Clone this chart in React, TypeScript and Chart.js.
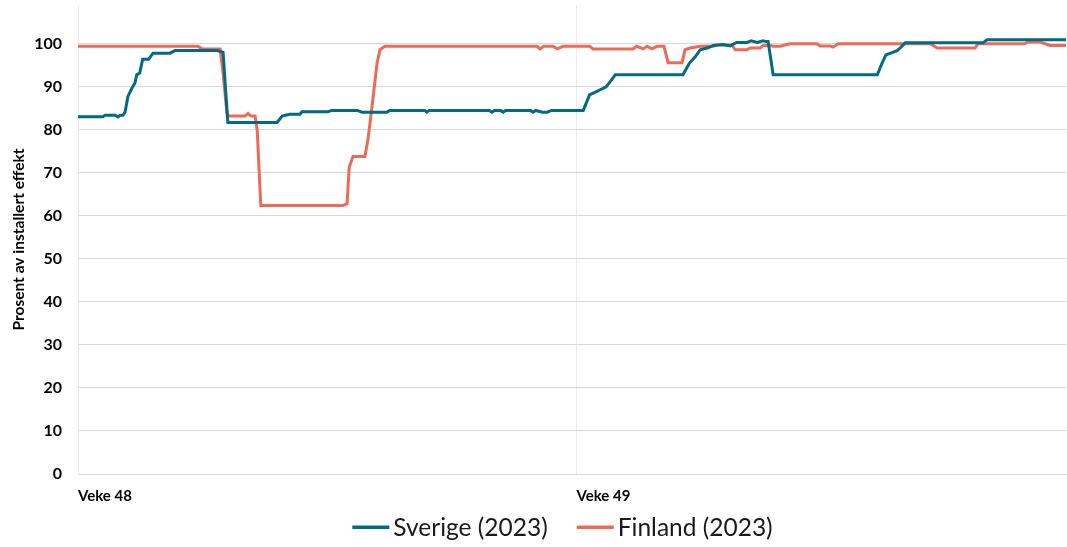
import React, { useEffect, useRef } from "react";
import { Chart, registerables } from "chart.js";

Chart.register(...registerables);

const weekLabels = ["Veke 48", "Veke 49"];
const weekStartHours = [0, 168];
const yTickValues = [0, 10, 20, 30, 40, 50, 60, 70, 80, 90, 100];
const lastHour = 333;

const sverigeLabel = "Sverige (2023)";
const sverigeHours = [
  0, 8.4, 9.1, 12.5, 13.5, 14.2, 15.2, 15.9, 16.8, 18.2, 19.2, 19.8, 20.8, 21.8, 23.8, 25.3, 31.0, 32.7, 46.9,
  48.9, 50.5, 67.1, 68.8, 71.4, 74.8, 75.5, 84.2, 85.6, 94.1, 95.7, 104.1, 105.0, 116.9, 117.6, 118.3, 138.7,
  139.5, 140.3, 142.5, 143.3, 144.1, 152.6, 153.4, 154.2, 156.6, 158.1, 159.6, 170.3, 172.4, 174.9, 176.0,
  178.0, 179.4, 181.1, 203.9, 206.1, 208.1, 209.7, 212.1, 214.1, 217.4, 219.8, 222.0, 225.5, 226.9, 228.9,
  230.9, 231.9, 232.6, 234.3, 269.4, 271.0, 272.3, 276.1, 277.1, 278.8, 305.0, 306.4, 333,
];
const sverigeValues = [
  83.0, 83.0, 83.4, 83.4, 83.0, 83.4, 83.4, 84.2, 87.7, 89.7, 90.9, 92.8, 93.2, 96.4, 96.4, 97.8, 97.8, 98.4,
  98.4, 98.0, 81.7, 81.7, 83.2, 83.6, 83.6, 84.2, 84.2, 84.5, 84.5, 84.1, 84.1, 84.5, 84.5, 84.1, 84.5, 84.5,
  84.1, 84.5, 84.5, 84.1, 84.5, 84.5, 84.1, 84.5, 84.1, 84.1, 84.5, 84.5, 88.1, 88.9, 89.3, 90.0, 91.2, 92.8,
  92.8, 95.5, 97.0, 98.6, 99.0, 99.6, 99.8, 99.5, 100.3, 100.3, 100.7, 100.3, 100.7, 100.5, 100.5, 92.8, 92.8,
  95.5, 97.4, 98.4, 99.0, 100.2, 100.2, 100.9, 100.9,
];

const finlandLabel = "Finland (2023)";
const finlandHours = [
  0, 40.4, 41.8, 47.9, 48.9, 50.2, 50.5, 56.3, 57.3, 58.3, 59.7, 60.4, 61.6, 89.3, 90.7, 91.4, 92.7, 96.7, 97.7,
  99.1, 100.8, 101.8, 103.5, 154.7, 155.7, 157.1, 160.1, 161.5, 163.5, 172.4, 173.6, 187.1, 188.3, 190.5, 191.8,
  193.4, 195.2, 197.5, 198.9, 203.6, 204.6, 206.3, 209.7, 214.1, 215.3, 220.4, 221.5, 225.5, 226.5, 229.9, 230.9,
  233.3, 234.3, 236.7, 240.0, 249.1, 250.1, 253.5, 254.5, 256.2, 287.2, 289.6, 302.4, 303.3, 319.1, 320.1,
  324.3, 327.6, 333,
];
const finlandValues = [
  99.4, 99.4, 98.8, 98.8, 93.2, 83.9, 83.2, 83.2, 83.8, 83.2, 83.2, 79.9, 62.4, 62.4, 62.8, 71.3, 73.8, 73.8,
  77.6, 85.4, 95.5, 98.6, 99.4, 99.4, 98.8, 99.4, 99.4, 98.8, 99.4, 99.4, 98.8, 98.8, 99.4, 98.8, 99.4, 98.8,
  99.4, 99.4, 95.6, 95.6, 98.6, 99.0, 99.4, 99.4, 99.7, 99.7, 98.6, 98.6, 99.0, 99.0, 99.6, 99.6, 99.4, 99.4,
  100, 100, 99.5, 99.5, 99.2, 100, 100, 99.0, 99.0, 100, 100, 100.4, 100.4, 99.6, 99.6,
];

const TEAL = "#006a80";
const RED = "#eb6b5b";

const toPoints = (hours: number[], values: number[]) => hours.map((h, i) => ({ x: h, y: values[i] }));

const customLegend = {
  id: "customLegend",
  afterDraw(chart: any) {
    const ctx = chart.ctx;
    const fontSize = 24.5;
    ctx.save();
    ctx.font = `${fontSize}px Lato`;
    ctx.textBaseline = "middle";
    ctx.textAlign = "left";
    const lineW = 37;
    const gapText = 4;
    const gapItem = 29;
    const items = chart.data.datasets.map((d: any) => ({
      text: d.label,
      color: d.borderColor,
      w: lineW + gapText + ctx.measureText(d.label).width,
    }));
    const total = items.reduce((s: number, it: any) => s + it.w, 0) + gapItem * (items.length - 1);
    let x = chart.width / 2 + 29 - total / 2;
    const y = 527;
    items.forEach((it: any) => {
      ctx.fillStyle = it.color;
      ctx.fillRect(x, y - 1.5, lineW, 3.5);
      ctx.fillStyle = "#1a1a1a";
      ctx.fillText(it.text, x + lineW + gapText, y + 1);
      x += it.w + gapItem;
    });
    ctx.restore();
  },
};

export default function App() {
  const canvasRef = useRef<HTMLCanvasElement | null>(null);

  useEffect(() => {
    document.body.style.margin = "0";
    const canvas = canvasRef.current;
    if (!canvas) return;
    const chart = new Chart(canvas, {
      type: "line",
      data: {
        datasets: [
          {
            label: sverigeLabel,
            data: toPoints(sverigeHours, sverigeValues),
            borderColor: TEAL,
            backgroundColor: TEAL,
            borderWidth: 3,
            pointRadius: 0,
            tension: 0,
          },
          {
            label: finlandLabel,
            data: toPoints(finlandHours, finlandValues),
            borderColor: RED,
            backgroundColor: RED,
            borderWidth: 3,
            pointRadius: 0,
            tension: 0,
          },
        ],
      },
      options: {
        animation: false,
        responsive: true,
        maintainAspectRatio: false,
        layout: { padding: { top: 5, right: 1, bottom: 29, left: 2 } },
        plugins: {
          legend: { display: false },
          tooltip: { enabled: false },
        },
        scales: {
          x: {
            type: "linear",
            min: 0,
            max: lastHour,
            afterBuildTicks: (scale: any) => {
              scale.ticks = weekStartHours.map((v) => ({ value: v }));
            },
            afterFit: (scale: any) => {
              scale.paddingLeft = 0;
              scale.paddingRight = 0;
            },
            ticks: {
              align: "start",
              padding: 13,
              maxRotation: 0,
              autoSkip: false,
              color: "#000",
              font: { family: "Lato", size: 15, weight: "bold" },
              callback: (value: any) => {
                const i = weekStartHours.indexOf(Number(value));
                return i >= 0 ? weekLabels[i] : "";
              },
            },
            grid: { color: "#ececec", lineWidth: 1, drawTicks: false },
            border: { display: true, color: "#d9d9d9" },
          },
          y: {
            min: 0,
            max: 109,
            afterBuildTicks: (scale: any) => {
              scale.ticks = yTickValues.map((v) => ({ value: v }));
            },
            afterFit: (scale: any) => {
              scale.paddingTop = 0;
              scale.paddingBottom = 0;
              scale.width = 76;
            },
            ticks: {
              padding: 16,
              color: "#000",
              font: { family: "Lato", size: 16, weight: "bold" },
            },
            grid: { color: "#d9d9d9", lineWidth: 1, drawTicks: false },
            border: { display: true, color: "#ececec" },
            title: {
              display: true,
              text: "Prosent av installert effekt",
              color: "#000",
              font: { family: "Lato", size: 15.5, weight: "bold" },
              padding: { top: 8, bottom: 3 },
            },
          },
        },
      },
      plugins: [customLegend],
    });
    return () => chart.destroy();
  }, []);

  return (
    <div style={{ position: "absolute", left: 0, top: 0, width: 1067, height: 547 }}>
      <canvas ref={canvasRef} />
    </div>
  );
}
